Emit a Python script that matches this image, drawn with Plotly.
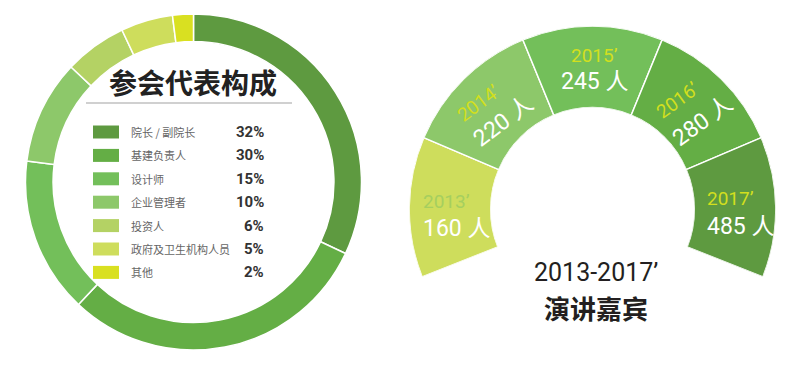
import plotly.graph_objects as go

# ---------------- data ----------------
roles = ["院长 / 副院长", "基建负责人", "设计师", "企业管理者", "投资人", "政府及卫生机构人员", "其他"]
role_share = [32, 30, 15, 10, 6, 5, 2]
role_colors = ["#5e9a40", "#64ae45", "#73bf5a", "#8dc86a", "#b4d264", "#cedd5c", "#d9e021"]

years = ["2013’", "2014’", "2015’", "2016’", "2017’"]
speakers = [160, 220, 245, 280, 485]
segment_size = [1, 1, 1, 1, 1]          # the five arcs are drawn equal in the picture
year_colors = ["#cedd5c", "#8dc86a", "#73bf5a", "#64ae45", "#5e9a40"]

# ---------------- layout helpers ----------------
W, H = 800, 370
def px(x):
    return x / W
def py(y):
    return 1 - y / H

CJK = "Noto Sans CJK SC"
NUM = "Roboto, " + CJK

fig = go.Figure()

# ---------------- left donut ----------------
fig.add_trace(go.Pie(
    values=role_share, labels=roles, sort=False, direction="clockwise", rotation=0,
    hole=0.836, textinfo="none", showlegend=False,
    marker=dict(colors=role_colors, line=dict(color="white", width=1.5)),
    domain=dict(x=[px(25.5), px(361.5)], y=[py(350), py(14)]),
))

# ---------------- right arc (polar sector) ----------------
ARC_START, ARC_END = 201.65, -21.65
unit = (ARC_START - ARC_END) / sum(segment_size)
theta, width, cum = [], [], 0
for s in segment_size:
    theta.append(ARC_START - (cum + s / 2) * unit)
    width.append(s * unit)
    cum += s

fig.add_trace(go.Barpolar(
    r=[1] * len(years), theta=theta, width=width,
    marker=dict(color=year_colors, line=dict(color="white", width=1.5)),
    customdata=speakers, text=years, hovertemplate="%{text}: %{customdata} 人<extra></extra>",
    showlegend=False,
))

shapes, annotations = [], []

# title + separator inside left donut
annotations.append(dict(x=px(193), y=py(82), xref="paper", yref="paper", showarrow=False,
                        text="<b>参会代表构成</b>", font=dict(family=CJK, size=28, color="#222222"),
                        xanchor="center", yanchor="middle"))
shapes.append(dict(type="line", xref="paper", yref="paper", x0=px(86), x1=px(292), y0=py(103), y1=py(103),
                   line=dict(color="#d0d0d0", width=2)))

# legend rows
ROW0, STEP = 132, 23.4
for i, (name, val, col) in enumerate(zip(roles, role_share, role_colors)):
    yc = ROW0 + i * STEP
    shapes.append(dict(type="rect", xref="paper", yref="paper", x0=px(93), x1=px(119),
                       y0=py(yc + 6.5), y1=py(yc - 6.5), fillcolor=col, line=dict(width=0)))
    annotations.append(dict(x=px(129), y=py(yc), xref="paper", yref="paper", showarrow=False,
                            text=name, font=dict(family=CJK, size=11, color="#666666"),
                            xanchor="left", yanchor="middle"))
    annotations.append(dict(x=px(266), y=py(yc), xref="paper", yref="paper", showarrow=False,
                            text=f"<b>{val}%</b>", font=dict(family=NUM, size=15, color="#333333"),
                            xanchor="right", yanchor="middle"))

# arc labels: (year centre, value centre, angle, anchor)
YEAR_COL = "#d2df1e"
label_pos = [
    ((421, 201), (421, 228), 0, "left"),
    ((478, 103), (503, 122), -37, "center"),
    ((594, 55), (594, 82), 0, "center"),
    ((677, 100), (702, 121.5), -36, "center"),
    ((705, 198), (705, 227), 0, "left"),
]
for i, (yr, n) in enumerate(zip(years, speakers)):
    (yx, yy), (vx, vy), ang, anc = label_pos[i]
    ycol = "#a5cf5f" if i == 0 else YEAR_COL
    annotations.append(dict(x=px(yx), y=py(yy), xref="paper", yref="paper", showarrow=False,
                            text=yr, font=dict(family=NUM, size=19, color=ycol),
                            textangle=ang, xanchor=anc, yanchor="middle"))
    annotations.append(dict(x=px(vx), y=py(vy), xref="paper", yref="paper", showarrow=False,
                            text=f"{n} 人", font=dict(family=NUM, size=23, color="white"),
                            textangle=ang, xanchor=anc, yanchor="middle"))

# bottom caption
annotations.append(dict(x=px(596), y=py(272), xref="paper", yref="paper", showarrow=False,
                        text="2013-2017’", font=dict(family=NUM, size=25, color="#231f20"),
                        xanchor="center", yanchor="middle"))
annotations.append(dict(x=px(595.5), y=py(307), xref="paper", yref="paper", showarrow=False,
                        text="<b>演讲嘉宾</b>", font=dict(family=CJK, size=26, color="#231f20"),
                        xanchor="center", yanchor="middle"))

fig.update_layout(
    width=W, height=H, margin=dict(l=0, r=0, t=0, b=0),
    paper_bgcolor="white", plot_bgcolor="white",
    polar=dict(
        domain=dict(x=[px(409), px(776)], y=[py(277), py(26)]),
        sector=[ARC_END, ARC_START], hole=0.555, bgcolor="rgba(0,0,0,0)",
        radialaxis=dict(range=[0, 1], visible=False),
        angularaxis=dict(visible=False, rotation=0, direction="counterclockwise"),
    ),
    shapes=shapes, annotations=annotations,
)

fig.write_html("out.html", config={"displayModeBar": False},
               post_script="document.body.style.margin='0px';")
